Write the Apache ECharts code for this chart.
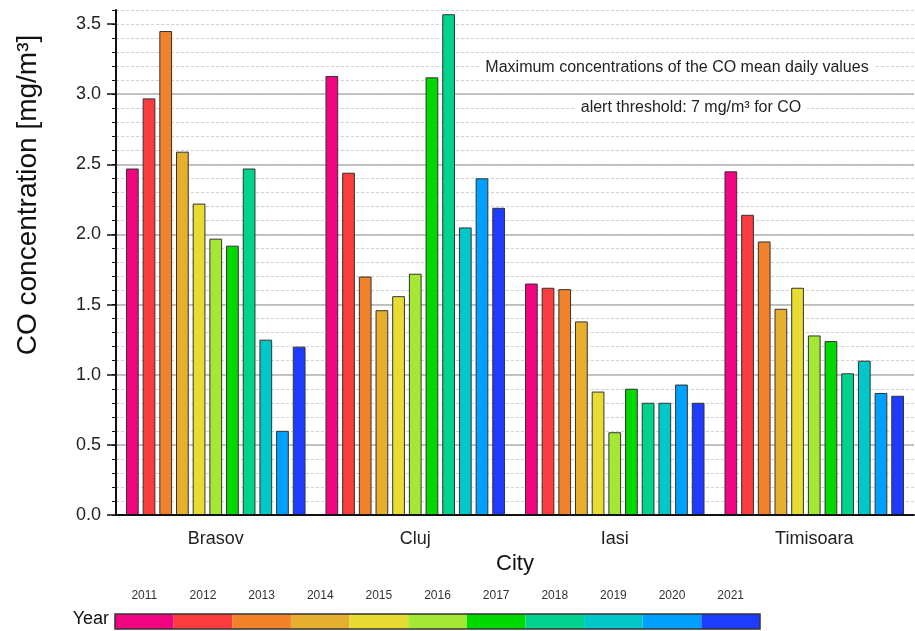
<!DOCTYPE html>
<html>
<head>
<meta charset="utf-8">
<title>Maximum CO concentrations</title>
<script src="https://cdn.jsdelivr.net/npm/echarts@6/dist/echarts.min.js"></script>
<style>
  html, body { margin: 0; padding: 0; background: #fff; }
  #main { width: 915px; height: 631px; }
</style>
</head>
<body>
<div id="main"></div>
<script>
var cities = ['Brasov', 'Cluj', 'Iasi', 'Timisoara'];
var years = ['2011', '2012', '2013', '2014', '2015', '2016', '2017', '2018', '2019', '2020', '2021'];

// maximum of the CO daily means per year, mg/m3
var brasov    = [2.47, 2.97, 3.45, 2.59, 2.22, 1.97, 1.92, 2.47, 1.25, 0.60, 1.20];
var cluj      = [3.13, 2.44, 1.70, 1.46, 1.56, 1.72, 3.12, 3.57, 2.05, 2.40, 2.19];
var iasi      = [1.65, 1.62, 1.61, 1.38, 0.88, 0.59, 0.90, 0.80, 0.80, 0.93, 0.80];
var timisoara = [2.45, 2.14, 1.95, 1.47, 1.62, 1.28, 1.24, 1.01, 1.10, 0.87, 0.85];

var yMajorTicks = [0, 0.5, 1.0, 1.5, 2.0, 2.5, 3.0, 3.5];

var yearColors = ['#F0047F', '#FB3C3C', '#F2822A', '#E6AF2E', '#E8DC33', '#A5E834',
                  '#00D900', '#00D38D', '#00C8C8', '#00A0FF', '#1E3CFF'];

var FONT = 'Liberation Sans, Arial, Helvetica, sans-serif';
var byCity = [brasov, cluj, iasi, timisoara];

var myChart = echarts.init(document.getElementById('main'));

var series = years.map(function (y, i) {
    return {
        name: y,
        type: 'bar',
        xAxisIndex: 0,
        yAxisIndex: 0,
        barGap: '31%',
        barCategoryGap: '10%',
        itemStyle: { color: yearColors[i], borderColor: '#333', borderWidth: 1 },
        data: byCity.map(function (c) { return c[i]; })
    };
});

// colour scale under the chart
series.push({
    type: 'bar',
    xAxisIndex: 2,
    yAxisIndex: 2,
    barCategoryGap: 0,
    silent: true,
    data: years.map(function (y, i) {
        return { value: 1, itemStyle: { color: yearColors[i] } };
    })
});

var option = {
    animation: false,
    textStyle: { fontFamily: FONT },
    grid: [
        { left: 116, right: 1, top: 10, bottom: 116, outerBoundsMode: 'none' },
        { left: 115, top: 614, width: 645, height: 15, outerBoundsMode: 'none',
          show: true, z: 10, backgroundColor: 'transparent',
          borderColor: '#333', borderWidth: 1.5 }
    ],
    xAxis: [
        {
            gridIndex: 0,
            type: 'category',
            data: cities,
            name: 'City',
            nameLocation: 'middle',
            nameGap: 35,
            nameTextStyle: { fontSize: 22, color: '#111', fontFamily: FONT },
            axisLine: { show: false },
            axisTick: { alignWithLabel: true, length: 9, lineStyle: { color: '#111', width: 1.5 } },
            axisLabel: { fontSize: 18, color: '#222', margin: 15, fontFamily: FONT }
        },
        {
            gridIndex: 0,
            type: 'category',
            data: cities,
            position: 'bottom',
            axisLine: { show: true, lineStyle: { color: '#111', width: 2 } },
            axisTick: { length: 4, lineStyle: { color: '#111', width: 1.5 } },
            axisLabel: { show: false },
            splitLine: { show: false },
            z: 5
        },
        {
            gridIndex: 1,
            type: 'category',
            data: years,
            position: 'top',
            axisLine: { show: false },
            axisTick: { alignWithLabel: true, length: 8, lineStyle: { color: '#333' } },
            axisLabel: { fontSize: 12, color: '#333', margin: 12, fontFamily: FONT }
        }
    ],
    yAxis: [
        {
            gridIndex: 0,
            type: 'value',
            min: 0,
            max: 3.6,
            interval: 0.1,
            axisLine: { show: true, lineStyle: { color: '#111', width: 2 } },
            axisTick: { show: true, length: 4, lineStyle: { color: '#111' } },
            axisLabel: { show: false },
            splitLine: { show: true, showMinLine: false,
                         lineStyle: { color: '#d0d0d0', width: 1, type: [3, 2] } }
        },
        {
            gridIndex: 0,
            type: 'value',
            position: 'left',
            min: 0,
            max: 3.6,
            interval: 0.5,
            axisLine: { show: false },
            axisTick: { show: true, length: 9, customValues: yMajorTicks,
                        lineStyle: { color: '#111', width: 1.5 } },
            axisLabel: {
                fontSize: 18, color: '#222', margin: 15, fontFamily: FONT,
                customValues: yMajorTicks,
                formatter: function (v) { return v > 3.55 ? '' : v.toFixed(1); }
            },
            splitLine: { show: true, showMinLine: false, showMaxLine: false,
                         lineStyle: { color: '#b0b0b0', width: 1.5 } }
        },
        {
            gridIndex: 1,
            type: 'value',
            min: 0,
            max: 1,
            show: false
        }
    ],
    graphic: [
        {
            type: 'text',
            x: 28,
            y: 195,
            rotation: Math.PI / 2,
            style: {
                text: 'CO concentration [mg/m\u00b3]',
                font: '28px ' + FONT,
                fill: '#111',
                textAlign: 'center',
                textVerticalAlign: 'middle'
            }
        },
        {
            type: 'text',
            x: 677,
            y: 68,
            z: 20,
            style: {
                text: 'Maximum concentrations of the CO mean daily values',
                font: '16px ' + FONT,
                fill: '#222',
                textAlign: 'center',
                textVerticalAlign: 'middle',
                backgroundColor: '#fff',
                padding: [3, 6]
            }
        },
        {
            type: 'text',
            x: 691,
            y: 108,
            z: 20,
            style: {
                text: 'alert threshold: 7 mg/m\u00b3 for CO',
                font: '16px ' + FONT,
                fill: '#222',
                textAlign: 'center',
                textVerticalAlign: 'middle',
                backgroundColor: '#fff',
                padding: [3, 6]
            }
        },
        {
            type: 'text',
            x: 109,
            y: 619,
            style: {
                text: 'Year',
                font: '18px ' + FONT,
                fill: '#111',
                textAlign: 'right',
                textVerticalAlign: 'middle'
            }
        }
    ],
    series: series
};

myChart.setOption(option);
</script>
</body>
</html>
